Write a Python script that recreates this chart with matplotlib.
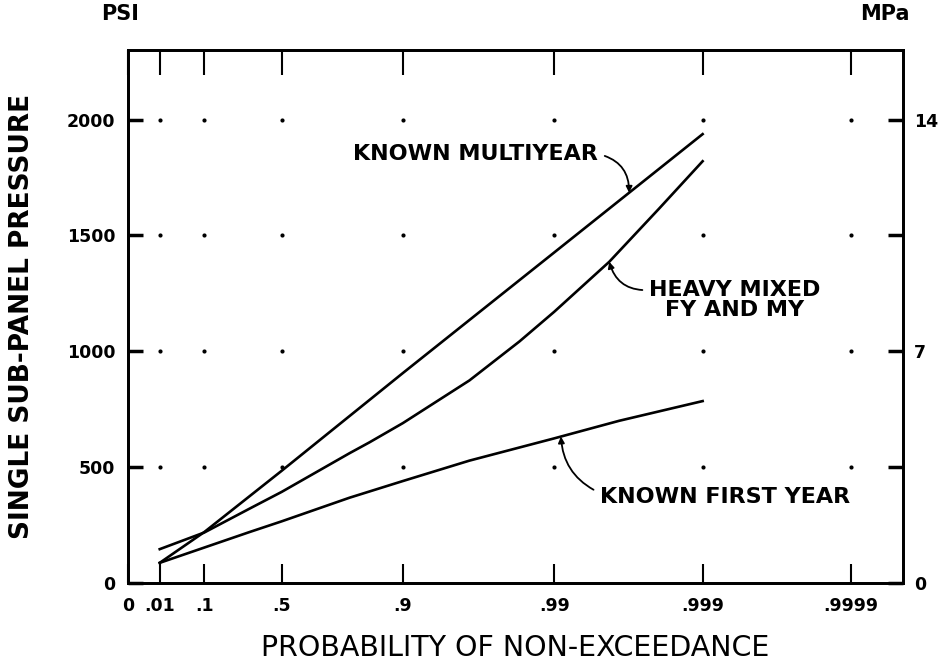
import numpy as np
import matplotlib
matplotlib.use("Agg")
import matplotlib.pyplot as plt

# ---------------- data ----------------
prob_ticks = [0.01, 0.1, 0.5, 0.9, 0.99, 0.999, 0.9999]
prob_tick_labels = [".01", ".1", ".5", ".9", ".99", ".999", ".9999"]
psi_ticks = [0, 500, 1000, 1500, 2000]
psi_tick_labels = ["0", "500", "1000", "1500", "2000"]
mpa_ticks = [0, 3.5, 7, 10.5, 14]
mpa_tick_labels = ["0", "", "7", "", "14"]

p_multiyear = [0.01, 0.1, 0.5, 0.9, 0.99, 0.999]
psi_multiyear = [87, 220, 484, 906, 1426, 1937]

p_mixed = [0.01, 0.1, 0.32, 0.5, 0.7855, 0.8378, 0.9, 0.9632, 0.9829, 0.99,
           0.99574, 0.99803, 0.999]
psi_mixed = [146, 218, 321, 393, 560, 607, 690, 874, 1042, 1170,
             1386, 1615, 1820]

p_first = [0.01, 0.32, 0.5, 0.7855, 0.9, 0.9632, 0.99, 0.99635, 0.999]
psi_first = [87, 220, 266, 368, 440, 528, 624, 700, 785]

# ---------------- scale (Gumbel / extreme value probability) ----------------
def fwd(p):
    p = np.clip(np.asarray(p, dtype=float), 1e-300, 1 - 1e-16)
    return -np.log(-np.log(p))

def inv(g):
    return np.exp(-np.exp(-np.asarray(g, dtype=float)))

plt.rcParams["font.family"] = ["DejaVu Sans"]

fig = plt.figure(figsize=(9.45, 6.62), dpi=100)
ax = fig.add_axes([128 / 945, 1 - 583 / 662, 775 / 945, 533 / 662])
ax.set_xscale("function", functions=(fwd, inv))
xlo, xhi = float(inv(-2.02)), float(inv(10.02))
ax.set_xlim(xlo, xhi)
ax.set_ylim(0, 2300)

lw = 1.9
ax.plot(p_multiyear, psi_multiyear, color="black", lw=lw, zorder=3,
        solid_joinstyle="round")
ax.plot(p_mixed, psi_mixed, color="black", lw=lw, zorder=3,
        solid_joinstyle="round")
ax.plot(p_first, psi_first, color="black", lw=lw, zorder=3,
        solid_joinstyle="round")

# dotted grid intersections
gx, gy = np.meshgrid(prob_ticks, psi_ticks[1:])
ax.scatter(gx.ravel(), gy.ravel(), s=9, color="black", zorder=2, linewidths=0)

tick_font = dict(fontsize=12.5, fontweight="bold")
ax.set_xticks([xlo] + prob_ticks)
ax.set_xticklabels(["0"] + prob_tick_labels, **tick_font)
ax.set_yticks(psi_ticks)
ax.set_yticklabels(psi_tick_labels, **tick_font)
ax.tick_params(axis="x", direction="in", length=14, width=1.5, pad=10, top=True)
ax.tick_params(axis="y", direction="in", length=11, width=2.5, pad=9)
for t in ax.xaxis.get_major_ticks():
    t.tick2line.set_markersize(18)

ax2 = ax.twinx()
ax2.set_ylim(0, 2300 * 0.007)
ax2.set_yticks(mpa_ticks)
ax2.set_yticklabels(mpa_tick_labels, **tick_font)
ax2.tick_params(axis="y", direction="in", length=11, width=2.5, pad=8)
for a in (ax, ax2):
    for s in a.spines.values():
        s.set_linewidth(2.0)

ax.set_xlabel("PROBABILITY OF NON-EXCEEDANCE", fontsize=20.5)
ax.xaxis.set_label_coords(0.5, -(634 - 583) / 533)
ax.set_ylabel("SINGLE SUB-PANEL PRESSURE", fontsize=19, fontweight="bold")
ax.yaxis.set_label_coords(-(128 - 35) / 775, 0.5)

fig.text(120 / 945, 1 - 14 / 662, "PSI", fontsize=15, fontweight="bold",
         ha="center", va="center")
fig.text(885 / 945, 1 - 14 / 662, "MPa", fontsize=15, fontweight="bold",
         ha="center", va="center")

ann_font = dict(fontsize=16, fontweight="bold")
arrow = dict(arrowstyle="-|>", color="black", lw=1.3, mutation_scale=9,
             shrinkA=3, shrinkB=0)

ax.annotate("KNOWN MULTIYEAR", xy=(0.99687, 1684),
            xytext=((598 - 128) / 775, (583 - 154) / 533), textcoords="axes fraction",
            ha="right", va="center", **ann_font,
            arrowprops=dict(arrow, connectionstyle="arc3,rad=-0.4", relpos=(1, 0.5)))

ax.annotate("HEAVY MIXED\nFY AND MY", xy=(0.99574, 1386),
            xytext=((735 - 128) / 775, (583 - 300) / 533), textcoords="axes fraction",
            ha="center", va="center", multialignment="center", linespacing=1.0,
            **ann_font,
            arrowprops=dict(arrow, connectionstyle="arc3,rad=-0.4", relpos=(0, 0.75)))

ax.annotate("KNOWN FIRST YEAR", xy=(0.991, 632),
            xytext=((600 - 128) / 775, (583 - 497) / 533), textcoords="axes fraction",
            ha="left", va="center", **ann_font,
            arrowprops=dict(arrow, connectionstyle="arc3,rad=-0.3", relpos=(0, 0.7)))

fig.savefig("out.png", dpi=100)
